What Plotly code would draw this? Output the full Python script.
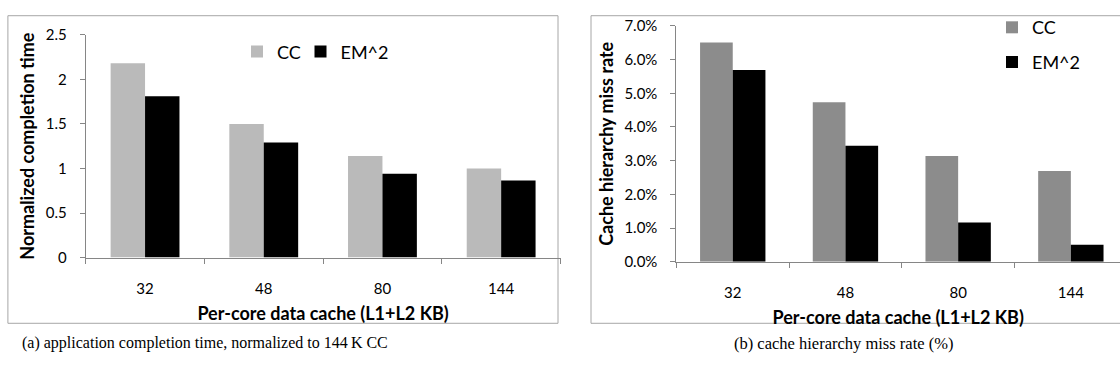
import plotly.graph_objects as go

# ---- data ----
categories = ["32", "48", "80", "144"]
series_names = ["CC", "EM^2"]
completion_cc = [2.18, 1.50, 1.14, 1.00]
completion_em = [1.81, 1.29, 0.94, 0.865]
missrate_cc = [0.0651, 0.0473, 0.0314, 0.0269]
missrate_em = [0.0569, 0.0344, 0.0116, 0.0050]
left_yticks = [0, 0.5, 1, 1.5, 2, 2.5]
left_yticklabels = ["0", "0.5", "1", "1.5", "2", "2.5"]
right_yticks = [0, 0.01, 0.02, 0.03, 0.04, 0.05, 0.06, 0.07]
right_yticklabels = ["0.0%", "1.0%", "2.0%", "3.0%", "4.0%", "5.0%", "6.0%", "7.0%"]
x_title = "Per-core data cache (L1+L2 KB)"
left_y_title = "Normalized completion time"
right_y_title = "Cache hierarchy miss rate"
caption_a = "(a) application completion time, normalized to 144\u2009K CC"
caption_b = "(b) cache hierarchy miss rate (%)"

W, H = 1120, 377
def fx(x): return x / W
def fy(y): return 1 - y / H

FONT = "Lato"
AX = "#868686"
LEFT_CC = "#BABABA"
RIGHT_CC = "#8C8C8C"
EM = "#000000"

fig = go.Figure()
fig.add_trace(go.Bar(x=categories, y=completion_cc, name=series_names[0],
                     marker=dict(color=LEFT_CC, line=dict(width=0)),
                     xaxis="x", yaxis="y", legend="legend"))
fig.add_trace(go.Bar(x=categories, y=completion_em, name=series_names[1],
                     marker=dict(color=EM, line=dict(width=0)),
                     xaxis="x", yaxis="y", legend="legend3"))
fig.add_trace(go.Bar(x=categories, y=missrate_cc, name=series_names[0],
                     marker=dict(color=RIGHT_CC, line=dict(width=0)),
                     xaxis="x2", yaxis="y2", legend="legend2"))
fig.add_trace(go.Bar(x=categories, y=missrate_em, name=series_names[1],
                     marker=dict(color=EM, line=dict(width=0)),
                     xaxis="x2", yaxis="y2", legend="legend4"))

TITLE_FONT = dict(family=FONT, size=18, color="#000", weight="bold")
YTITLE_FONT = dict(family=FONT, size=18, color="#000", weight="bold")

xcommon = dict(type="category", showline=True, linecolor=AX, linewidth=1,
               ticks="outside", tickson="boundaries", ticklen=5, tickcolor=AX,
               showgrid=False, zeroline=False, ticklabelstandoff=17,
               tickfont=dict(family=FONT, size=15, color="#000"),
               title=dict(text=x_title, standoff=11, font=TITLE_FONT))
ycommon = dict(showline=True, linecolor=AX, linewidth=1, ticks="outside",
               ticklen=5, tickcolor=AX, showgrid=False, zeroline=False,
               ticklabelstandoff=10,
               tickfont=dict(family=FONT, size=15, color="#000"))

def leg(x, y):
    return dict(orientation="v", x=fx(x), y=fy(y), xanchor="left", yanchor="middle",
                bgcolor="rgba(0,0,0,0)", font=dict(family=FONT, size=18, color="#000"),
                itemwidth=30)

fig.update_layout(
    width=W, height=H, margin=dict(l=0, r=0, t=0, b=0),
    paper_bgcolor="white", plot_bgcolor="white",
    barmode="group", bargap=0.42, bargroupgap=0,
    xaxis=dict(domain=[fx(85.7), fx(560.5)], range=[-0.5, 3.5], anchor="y", **xcommon),
    yaxis=dict(domain=[fy(260), fy(26)], range=[0, 2.5], anchor="x",
               tickvals=left_yticks, ticktext=left_yticklabels,
               title=dict(text=left_y_title, standoff=6, font=YTITLE_FONT),
               **ycommon),
    xaxis2=dict(domain=[fx(676.4), 1.0], range=[-0.5, -0.5 + (W - 676.4) / 112.7],
                anchor="y2", **xcommon),
    yaxis2=dict(domain=[fy(264.3), fy(16.7)], range=[0, 0.07], anchor="x2",
                tickvals=right_yticks, ticktext=right_yticklabels,
                title=dict(text=right_y_title, standoff=6, font=YTITLE_FONT),
                **ycommon),
    legend=leg(237, 44),
    legend3=leg(300.5, 44),
    legend2=leg(992, 18.5),
    legend4=leg(992, 55),
    showlegend=True,
    shapes=[
        dict(type="rect", xref="paper", yref="paper", x0=fx(7.9), x1=fx(558),
             y0=fy(329), y1=fy(6), line=dict(color="#A6A6A6", width=1), layer="below"),
        dict(type="rect", xref="paper", yref="paper", x0=fx(591), x1=fx(1135),
             y0=fy(329), y1=fy(6), line=dict(color="#A6A6A6", width=1), layer="below"),
    ],
    annotations=[
        dict(text=caption_a, xref="paper", yref="paper", x=fx(20), y=fy(350),
             xanchor="left", yanchor="middle", showarrow=False,
             font=dict(family="Liberation Serif", size=16, color="#000")),
        dict(text=caption_b, xref="paper", yref="paper", x=fx(731.7), y=fy(350),
             xanchor="left", yanchor="middle", showarrow=False,
             font=dict(family="Liberation Serif", size=16.5, color="#000")),
    ],
)

fig.write_html("out.html")
